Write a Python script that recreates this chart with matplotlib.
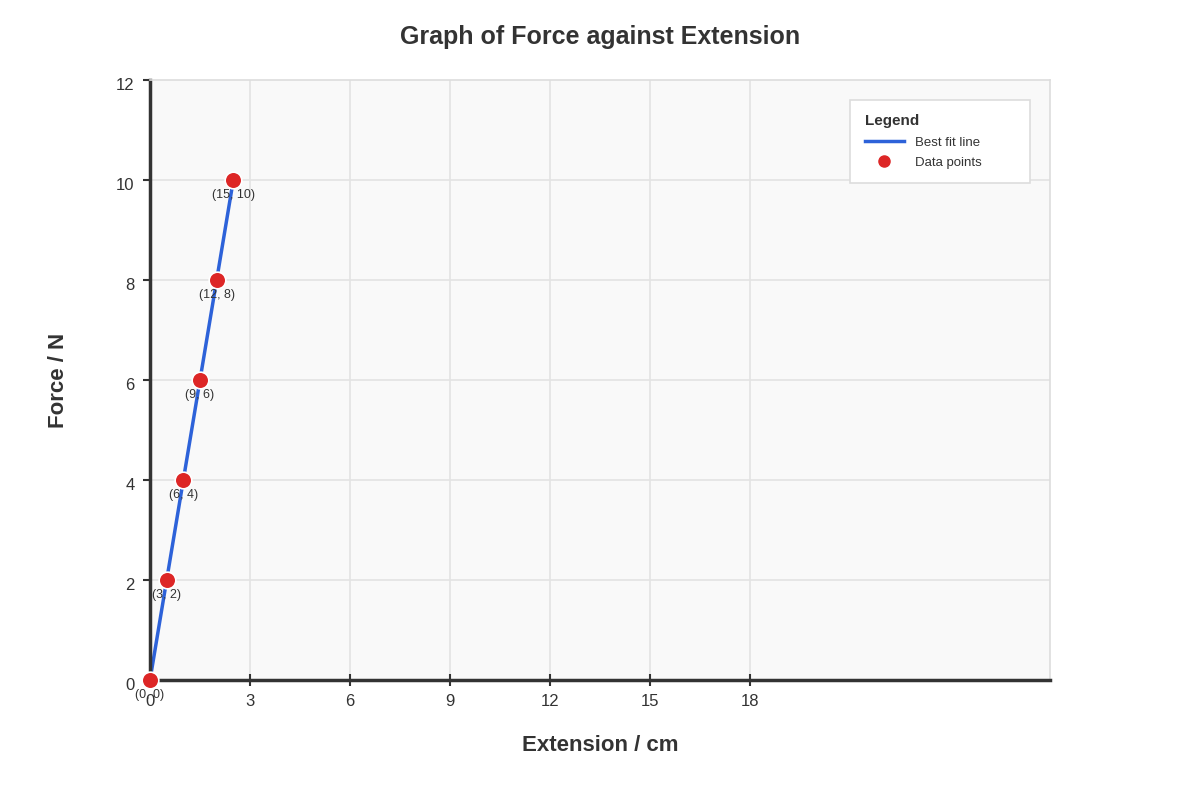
import matplotlib.pyplot as plt
import matplotlib.transforms as mtransforms
from matplotlib.lines import Line2D

plt.rcParams['font.family'] = ['Liberation Sans', 'DejaVu Sans']

# measured values
extension = [0, 3, 6, 9, 12, 15]
force = [0, 2, 4, 6, 8, 10]
point_labels = ['(0, 0)', '(3, 2)', '(6, 4)', '(9, 6)', '(12, 8)', '(15, 10)']

# axis ticks as drawn in the original chart
x_tick_pos = [0, 18, 36, 54, 72, 90, 108]
x_tick_labels = ['0', '3', '6', '9', '12', '15', '18']
y_ticks = [0, 2, 4, 6, 8, 10, 12]

fig = plt.figure(figsize=(12, 8), dpi=100)
ax = fig.add_axes([0.125, 0.15, 0.75, 0.75])
ax.set_facecolor('#f9f9f9')

ax.set_xlim(0, 162)
ax.set_ylim(0, 12)

for xv in x_tick_pos[1:]:
    ax.axvline(xv, color='#e3e3e3', lw=1.2, zorder=0)
for yv in y_ticks[1:-1]:
    ax.axhline(yv, color='#e3e3e3', lw=1.2, zorder=0)

ax.plot(extension, force, color='#2d62d9', lw=2.5, zorder=2)
ax.plot(extension, force, 'o', color='#dd2626', markersize=12,
        markeredgecolor='white', markeredgewidth=1.2, zorder=3, clip_on=False)
for x, y, lab in zip(extension, force, point_labels):
    ax.annotate(lab, (x, y), xytext=(0, -11), textcoords='offset points',
                ha='center', va='center', fontsize=9, color='#333333', zorder=4)

ax.set_xticks(x_tick_pos)
ax.set_xticklabels(x_tick_labels)
ax.set_yticks(y_ticks)
ax.tick_params(axis='x', direction='inout', length=8, width=1.5, color='#333333',
               labelsize=12, labelcolor='#333333', pad=6)
ax.tick_params(axis='y', direction='out', length=5, width=1.5, color='#333333',
               labelsize=12, labelcolor='#333333', pad=6)
# y labels sit a little below their ticks in the original
shift = mtransforms.ScaledTranslation(0, -4 / 100, fig.dpi_scale_trans)
for t in ax.get_yticklabels():
    t.set_transform(t.get_transform() + shift)

for side in ['left', 'bottom']:
    ax.spines[side].set_color('#333333')
    ax.spines[side].set_linewidth(2.5)
    ax.spines[side].set_zorder(2.5)
for side in ['top', 'right']:
    ax.spines[side].set_color('#dddddd')
    ax.spines[side].set_linewidth(1.2)

ax.set_title('Graph of Force against Extension', fontsize=18, fontweight='bold',
             color='#333333', pad=26)
ax.set_xlabel('Extension / cm', fontsize=16, fontweight='bold', color='#333333', labelpad=19)
ax.set_ylabel('Force / N', fontsize=16, fontweight='bold', color='#333333', labelpad=34)

handles = [Line2D([], [], color='#2d62d9', lw=2.5),
           Line2D([], [], marker='o', ls='none', color='#dd2626', markersize=8)]
leg = ax.legend(handles, ['Best fit line', 'Data points'], title='Legend',
                loc='upper left', bbox_to_anchor=(0.7778, 0.5, 0.2, 0.4667),
                mode='expand', fontsize=9.5, title_fontsize=11, frameon=True,
                fancybox=False, borderpad=1.1, handlelength=3, handletextpad=0.8,
                labelspacing=0.6, alignment='left', borderaxespad=0)
leg.get_title().set_fontweight('bold')
leg.get_title().set_color('#333333')
for t in leg.get_texts():
    t.set_color('#333333')
leg.get_frame().set_edgecolor('#dddddd')
leg.get_frame().set_facecolor('white')
leg.get_frame().set_alpha(1)
leg.get_frame().set_linewidth(1.2)

fig.savefig('out.png', dpi=100)
